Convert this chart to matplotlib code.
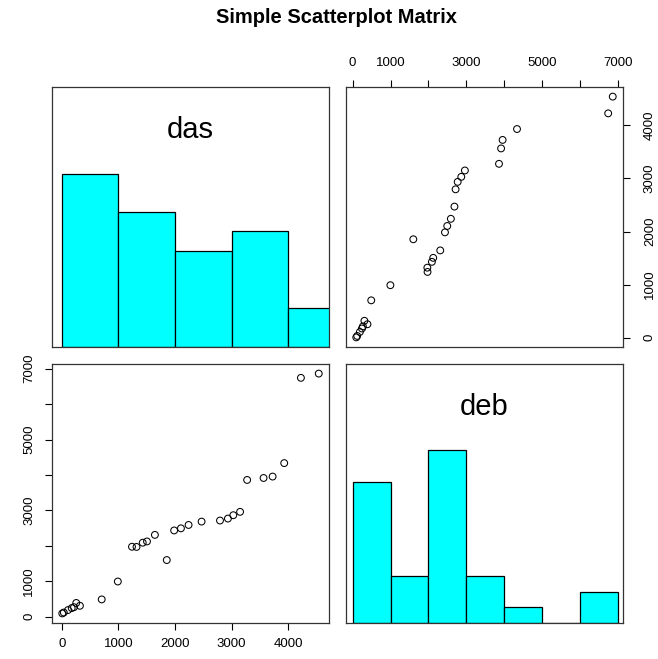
import numpy as np
import matplotlib
matplotlib.use('Agg')
import matplotlib.pyplot as plt

plt.rcParams['font.family'] = ['Liberation Sans', 'DejaVu Sans']

# datos (29 observaciones)
das = [8, 35, 110, 175, 215, 255, 320, 705, 990, 1240, 1320, 1430, 1505, 1645, 1855,
       1985, 2105, 2240, 2470, 2795, 2935, 3030, 3150, 3275, 3565, 3725, 3930, 4225, 4540]
deb = [95, 120, 190, 245, 270, 390, 310, 490, 995, 1975, 1970, 2090, 2125, 2310, 1600,
       2435, 2495, 2590, 2685, 2715, 2770, 2865, 2960, 3860, 3915, 3955, 4335, 6740, 6860]
var_names = ['das', 'deb']

das_breaks = [0, 1000, 2000, 3000, 4000, 5000]
deb_breaks = [0, 1000, 2000, 3000, 4000, 5000, 6000, 7000]

das_ticks = [0, 1000, 2000, 3000, 4000]
das_labels = ['0', '1000', '2000', '3000', '4000']
deb_ticks = [0, 1000, 2000, 3000, 4000, 5000, 6000, 7000]
deb_labels = ['0', '1000', '', '3000', '', '5000', '', '7000']

titulo = 'Simple Scatterplot Matrix'

W, H = 658, 659
fig = plt.figure(figsize=(W / 100, H / 100), dpi=100)


def rect(x0, y0, x1, y1):
    # pixeles (arriba-izquierda) -> fracciones de figura
    return [x0 / W, 1 - y1 / H, (x1 - x0) / W, (y1 - y0) / H]


def rlim(v):
    lo, hi = min(v), max(v)
    r = hi - lo
    return lo - 0.04 * r, hi + 0.04 * r


ax_tl = fig.add_axes(rect(52, 87, 329, 347))
ax_tr = fig.add_axes(rect(346, 87, 623, 347))
ax_bl = fig.add_axes(rect(52, 364, 329, 623))
ax_br = fig.add_axes(rect(346, 364, 623, 623))

for ax in [ax_tl, ax_tr, ax_bl, ax_br]:
    for s in ax.spines.values():
        s.set_color('#333333')
        s.set_linewidth(0.9)
    ax.tick_params(direction='out', length=5, width=0.8, labelsize=9.5, colors='black')
    ax.set_xticks([])
    ax.set_yticks([])


def histo(ax, v, breaks, nombre):
    counts, edges = np.histogram(v, bins=breaks)
    h = counts / counts.max()
    ax.bar(edges[:-1], h, width=np.diff(edges), align='edge', color='#00FFFF',
           edgecolor='black', linewidth=0.9)
    ax.set_xlim(rlim(v))
    ax.set_ylim(0, 1.5)
    ax.text(0.5, 0.833, nombre, transform=ax.transAxes, ha='center', va='center', fontsize=21)


histo(ax_tl, das, das_breaks, var_names[0])
histo(ax_br, deb, deb_breaks, var_names[1])

# arriba derecha: x = deb, y = das
ax_tr.scatter(deb, das, s=24, facecolors='none', edgecolors='black', linewidths=0.75)
ax_tr.set_xlim(rlim(deb))
ax_tr.set_ylim(rlim(das))
ax_tr.xaxis.tick_top()
ax_tr.set_xticks(deb_ticks)
ax_tr.set_xticklabels(deb_labels)
ax_tr.yaxis.tick_right()
ax_tr.set_yticks(das_ticks)
ax_tr.set_yticklabels(das_labels, rotation=90, va='center')
ax_tr.tick_params(axis='x', pad=8)
ax_tr.tick_params(axis='y', pad=10)

# abajo izquierda: x = das, y = deb
ax_bl.scatter(das, deb, s=24, facecolors='none', edgecolors='black', linewidths=0.75)
ax_bl.set_xlim(rlim(das))
ax_bl.set_ylim(rlim(deb))
ax_bl.set_xticks(das_ticks)
ax_bl.set_xticklabels(das_labels)
ax_bl.set_yticks(deb_ticks)
ax_bl.set_yticklabels(deb_labels, rotation=90, va='center')
ax_bl.tick_params(axis='x', pad=6)
ax_bl.tick_params(axis='y', pad=7)

fig.text(337 / W, 1 - 17.5 / H, titulo, ha='center', va='center', fontsize=14.5, fontweight='bold')

plt.savefig('out.png', dpi=100)
